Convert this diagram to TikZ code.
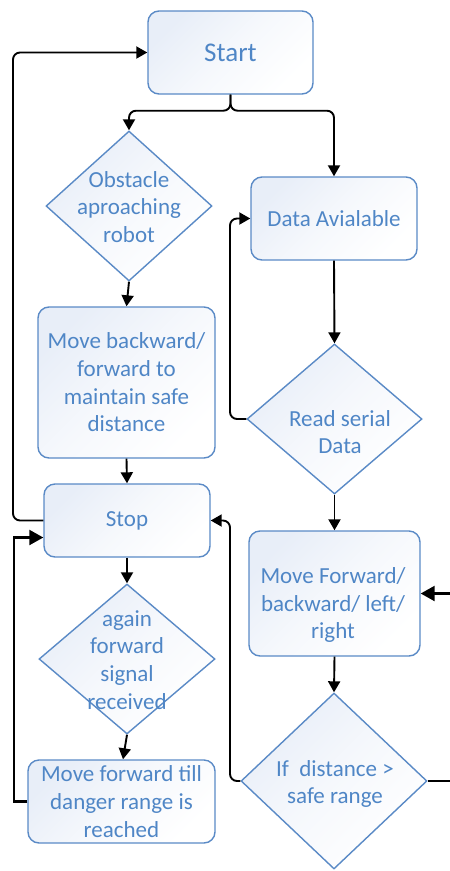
\documentclass[tikz,border=0pt]{standalone}
\usepackage{fontspec}
\setmainfont{Carlito}
\usetikzlibrary{shapes.geometric,arrows.meta,calc}
\definecolor{bord}{HTML}{5A8AC6}
\definecolor{txt}{HTML}{4F86C6}
\definecolor{shd}{HTML}{E8EEF8}
\tikzset{
  box/.style={draw=bord, line width=1.4pt, rounded corners=11pt, top color=shd, bottom color=white, middle color=white!60!shd, shading angle=45,
    text=txt, align=center, inner sep=0pt, font=\fontsize{23}{27.7}\selectfont},
  dia/.style={diamond, draw=bord, line width=1.4pt, top color=shd, bottom color=white, middle color=white!60!shd, shading angle=45, inner sep=0pt, aspect=1},
  dtext/.style={text=txt, align=center, inner sep=0pt, font=\fontsize{23}{27.7}\selectfont},
  conn/.style={draw=black, line width=1.9pt, -{Triangle[width=12pt,length=11pt]}},
  bigconn/.style={draw=black, line width=2.3pt, -{Triangle[width=15pt,length=14pt]}},
  plain/.style={draw=black, line width=2.1pt},
}
\begin{document}
\begin{tikzpicture}[x=1pt,y=-1pt]
\useasboundingbox (0,0) rectangle (450,871);
% nodes
\node[box, minimum width=165pt, minimum height=83pt, font=\fontsize{27}{32}\selectfont] (start) at (230.5,52.5) {Start};
\node[dia, minimum width=166pt, minimum height=150pt] (obst) at (129,206) {};
\node[dtext] (obstT) at (129,207) {Obstacle\\aproaching\\robot};
\node[box, minimum width=166pt, minimum height=83pt] (dataav) at (334,218.5) {Data Avialable};
\node[box, minimum width=177pt, minimum height=151pt] (moveback) at (126.5,382.5) {Move backward/\\forward to\\maintain safe\\distance};
\node[dia, minimum width=175pt, minimum height=150pt] (readser) at (334.5,419) {};
\node[dtext] (readserT) at (340,432) {Read serial\\Data};
\node[box, minimum width=166pt, minimum height=73pt] (stop) at (127,520.5) {Stop};
\node[box, minimum width=171pt, minimum height=125pt] (moveall) at (334.5,593.5) {};
\node[dtext] (moveallT) at (333,605) {Move Forward/\\backward/ left/\\right};
\node[dia, minimum width=176pt, minimum height=150pt] (again) at (127,659) {};
\node[dtext] (againT) at (127,660) {again\\forward\\signal\\received};
\node[dia, minimum width=186pt, minimum height=176pt] (ifdist) at (334,781) {};
\node[dtext] (ifdistT) at (335,784) {If~~distance >\\safe range};
\node[box, minimum width=187pt, minimum height=83pt] (movefwd) at (121.5,801.5) {Move forward till\\danger range is\\reached};
% connectors
\draw[conn, rounded corners=7pt] (start.south) -- ++(0,16) -| (obst.north);
\draw[conn, rounded corners=7pt] (start.south) -- ++(0,16) -| (dataav.north);
\draw[conn] (obst.south) -- (moveback.north);
\draw[conn] (moveback.south) -- (stop.north);
\draw[conn, rounded corners=7pt] (stop.west) -- (13,520.5) -- (13,52.5) -- (start.west);
\draw[conn] (dataav.south) -- (readser.north);
\draw[conn, rounded corners=7pt] (readser.west) -- (230,419) -- (230,218.5) -- (dataav.west);
\draw[conn] (readser.south) -- (moveall.north);
\draw[conn] (moveall.south) -- (ifdist.north);
\draw[conn, rounded corners=7pt] (ifdist.west) -- (230,781) -- (230,520.5) -- (stop.east);
\coordinate (outA) at (452,781);
\coordinate (outB) at (452,593.5);
\draw[plain] (ifdist.east) -- (outA);
\draw[bigconn] (outB) -- (moveall.east);
\draw[conn] (stop.south) -- (again.north);
\draw[conn] (again.south) -- ($(movefwd.north)+(1.5,0)$);
\coordinate (stopin) at ($(stop.west)+(0,17)$);
\draw[bigconn] (movefwd.west) -- (14,801.5) -- (14,537.5) -- (stopin);
\end{tikzpicture}
\end{document}
